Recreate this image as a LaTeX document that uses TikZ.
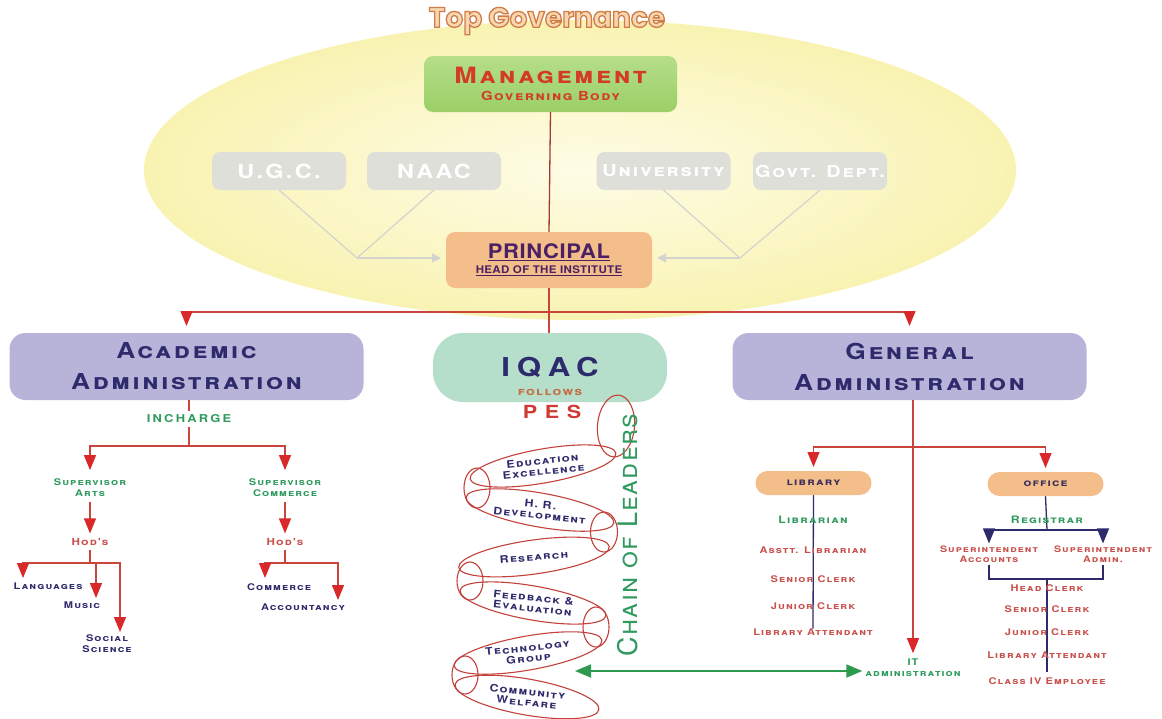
\documentclass[tikz,border=0pt]{standalone}
\usepackage{fontspec}
\usetikzlibrary{arrows.meta,shapes.geometric,calc}
\pgfdeclarelayer{paper}
\pgfdeclarelayer{bg}
\pgfsetlayers{paper,bg,main}
\setmainfont{TeX Gyre Heros}
\newfontfamily\cop{TeX Gyre Heros}[FakeStretch=1.2,LetterSpace=12]
\newfontfamily\plainsc{TeX Gyre Heros}[LetterSpace=5]
\newfontfamily\sq{TeX Gyre Heros}[FakeStretch=1.1,LetterSpace=3]
\newfontfamily\titlefont{Poppins}
\newcommand\fs[1]{\fontsize{#1}{\fpeval{1.18*#1}}\selectfont}
% outlined lettering: stroke and fill the glyphs
\newcommand\outlined[1]{\special{pdf:literal direct 1.3 w 0.81 0.49 0.27 RG 2 Tr}#1\special{pdf:literal direct 0 Tr}}

\definecolor{navy}{HTML}{2E2B6D}
\definecolor{mred}{HTML}{D33B26}
\definecolor{tgreen}{HTML}{2F9A5E}
\definecolor{salmon}{HTML}{C9504B}
\definecolor{follow}{HTML}{C46A3E}
\definecolor{pesred}{HTML}{D03A35}
\definecolor{purp}{HTML}{4B2163}
\definecolor{lred}{HTML}{C9453B}
\definecolor{ared}{HTML}{D8282A}
\definecolor{dred}{HTML}{A33A2E}
\definecolor{sred}{HTML}{C2413A}
\definecolor{gline}{HTML}{D3D3CF}
\definecolor{boxgray}{HTML}{DFDFD9}
\definecolor{lav}{HTML}{B8B3D8}
\definecolor{mint}{HTML}{B5DFCB}
\definecolor{peach}{HTML}{F4BE8A}
\definecolor{gtop}{HTML}{B5DE8A}
\definecolor{gbot}{HTML}{9BCF66}
\definecolor{govin}{HTML}{FEFCE6}
\definecolor{govout}{HTML}{F9F3B2}
\definecolor{tgfill}{HTML}{F8D7B2}
\definecolor{arrgreen}{HTML}{2E9A4E}
\definecolor{boxtext}{HTML}{3A2E5A}

\tikzset{
  every node/.style={inner sep=0pt,outer sep=0pt,align=center},
  fsc/.style={font=\cop\bfseries\scshape\fs{#1}},
  gbox/.style={fill=boxgray,rounded corners=8pt,minimum width=134pt,minimum height=38pt,text=white,font=\cop\bfseries\fs{19.5}},
  mgmtbox/.style={rounded corners=9pt,minimum width=253pt,minimum height=56pt,top color=gtop,bottom color=gbot,text=mred,font=\cop\bfseries\scshape},
  princbox/.style={rounded corners=9pt,minimum width=206pt,minimum height=56pt,fill=peach,text=purp,font=\sq\bfseries},
  adminbox/.style={rounded corners=16pt,minimum width=354pt,minimum height=67pt,fill=lav,text=navy,font=\cop\bfseries\scshape\fs{22}},
  iqacbox/.style={rounded corners=30pt,minimum width=234pt,minimum height=69pt,fill=mint,text=navy,font=\cop\bfseries\fs{26}\addfontfeature{LetterSpace=26}},
  smallbox/.style={rounded corners=12pt,minimum width=116pt,minimum height=24pt,fill=peach,text=boxtext,font=\cop\bfseries\scshape\fs{10.2}},
  loop/.style={draw=sred,line width=1.1pt,ellipse,inner sep=0pt},
  looptext/.style={text=navy,font=\cop\bfseries\scshape\fontsize{10.3}{10.5}\selectfont},
  redline/.style={draw=lred,line width=1.3pt},
  dredline/.style={draw=dred,line width=1.3pt},
  redarrow/.style={draw=lred,line width=1.3pt,-{Triangle[width=12pt,length=15pt,color=ared]}},
  navyline/.style={draw=navy,line width=1.3pt},
  navyarrow/.style={draw=navy,line width=1.3pt,-{Triangle[width=12pt,length=15pt,color=navy]}},
  grayline/.style={draw=gline,line width=1.2pt},
  grayarrow/.style={draw=gline,line width=1.2pt,-{Triangle[width=9pt,length=9pt,color=gline]}},
  greenarrow/.style={draw=arrgreen,line width=1.8pt,{Triangle[width=13pt,length=16pt,color=arrgreen]}-{Triangle[width=13pt,length=16pt,color=arrgreen]}}
}

\begin{document}
\begin{tikzpicture}[x=1pt,y=-1pt]
\useasboundingbox (0,0) rectangle (1162,718);
\begin{pgfonlayer}{paper}
  \fill[white] (0,0) rectangle (1162,718);
  % governance area
  \shade[inner color=govin,outer color=govout] (580,170) ellipse [x radius=436,y radius=150];
\end{pgfonlayer}
\node[font=\titlefont\bfseries\fs{28},text=tgfill] (topgov) at (547,21) {\outlined{Top Governance}};

\node[mgmtbox] (mgmt) at (550.5,84) {{\fs{22.5}Management}\\[5pt]{\fs{12.5}Governing Body}};
\node[princbox] (prin) at (549,260) {{\fs{20}\underline{PRINCIPAL}}\\[3pt]{\fs{10.5}\underline{HEAD OF THE INSTITUTE}}};

\node[gbox] (ugc) at (279,171) {U.G.C.};
\node[gbox] (naac) at (434,171) {NAAC};
\node[gbox,font=\cop\bfseries\scshape\fs{16.5}] (univ) at (663.5,171) {University};
\node[gbox,font=\cop\bfseries\scshape\fs{16.5}] (govt) at (820,171) {Govt. Dept.};

\coordinate (gl) at (357,258);
\coordinate (gr) at (740,258);
\draw[grayline] (ugc.south) -- (gl);
\draw[grayline] (naac.south) -- (gl);
\draw[grayarrow,shorten >=5pt] (gl) -- (gl -| prin.west);
\draw[grayline] (univ.south) -- (gr);
\draw[grayline] (govt.south) -- (gr);
\draw[grayarrow,shorten >=5pt] (gr) -- (gr -| prin.east);

\draw[dredline] (mgmt.south) -- (prin.north);

% second level
\node[adminbox] (acad) at (186.5,366.5) {Academic\\[5pt]Administration};
\node[iqacbox] (iqac) at (550,367.5) {IQAC};
\node[font=\cop\bfseries\scshape\fs{11.3},text=follow] (follows) at (550,392) {follows};
\node[adminbox] (gen) at (909.5,366.5) {General\\[5pt]Administration};

\coordinate (br) at (549,312);
\draw[redline] (prin.south) -- (prin.south |- iqac.north);
\draw[redarrow,shorten >=7pt] (br) -| (acad.north);
\draw[redarrow,shorten >=7pt] (br) -| (gen.north);

% academic administration
\node[font=\cop\bfseries\fs{10.8}\addfontfeature{LetterSpace=20},text=tgreen] (inch) at (189,419) {INCHARGE};
\coordinate (ib) at (189,446);
\draw[redline] (acad.south -| inch.north) -- ([yshift=4pt]inch.north);
\draw[redline] ([yshift=-4pt]inch.south) -- (ib);

\node[fsc=9.2,text=tgreen] (supA) at (90,488) {Supervisor\\Arts};
\node[fsc=9.2,text=tgreen] (supC) at (285,488) {Supervisor\\Commerce};
\draw[redarrow] (ib) -| ([yshift=9pt]supA.north);
\draw[redarrow] (ib) -| ([yshift=9pt]supC.north);

\node[fsc=9.7,text=salmon] (hodA) at (90,542) {Hod's};
\node[fsc=9.7,text=salmon] (hodC) at (285,542) {Hod's};
\draw[redarrow] ([yshift=-5pt]supA.south) -- ([yshift=5pt]hodA.north);
\draw[redarrow] ([yshift=-5pt]supC.south) -- ([yshift=5pt]hodC.north);

\coordinate (ha) at (90,563);
\coordinate (hc) at (285,563);
\draw[redline] ([yshift=-4pt]hodA.south) -- (ha);
\draw[redline] ([yshift=-4pt]hodC.south) -- (hc);
\coordinate (tLang) at (23,578);
\coordinate (tMus) at (96,598);
\coordinate (tSoc) at (120,632);
\coordinate (tCom) at (265,578);
\coordinate (tAcc) at (338,600);
\draw[redarrow] (ha) -| (tLang);
\draw[redarrow] (ha) -| (tMus);
\draw[redarrow] (ha) -| (tSoc);
\draw[redarrow] (hc) -| (tCom);
\draw[redarrow] (hc) -| (tAcc);

\node[fsc=9.2,text=navy] (lang) at (48,586) {Languages};
\node[fsc=9.2,text=navy] (music) at (82,605) {Music};
\node[fsc=9.2,text=navy] (soc) at (107,644) {Social\\Science};
\node[fsc=9.2,text=navy] (comm) at (279,587) {Commerce};
\node[fsc=9.2,text=navy] (acct) at (303,607) {Accountancy};

% IQAC chain of loops
\node[font=\cop\bfseries\fs{18}\addfontfeature{LetterSpace=42},text=pesred] (pes) at (552,412) {PES};
\node[loop,minimum width=37pt,minimum height=62pt,rotate=-5] (c0) at (616,426) {};
\node[loop,minimum width=148pt,minimum height=34pt,rotate=10] (e1) at (543,466) {};
\node[loop,minimum width=26pt,minimum height=40pt] (c1) at (477,488) {};
\node[loop,minimum width=150pt,minimum height=34pt,rotate=-10] (e2) at (540,510) {};
\node[loop,minimum width=27pt,minimum height=40pt] (c2) at (604,532) {};
\node[loop,minimum width=152pt,minimum height=34pt,rotate=8] (e3) at (534,557) {};
\node[loop,minimum width=26pt,minimum height=38pt] (c3) at (470,581) {};
\node[loop,minimum width=148pt,minimum height=34pt,rotate=-10] (e4) at (533,603) {};
\node[loop,minimum width=26pt,minimum height=40pt] (c4) at (596,627) {};
\node[loop,minimum width=150pt,minimum height=34pt,rotate=10] (e5) at (528,653) {};
\node[loop,minimum width=26pt,minimum height=38pt] (c5) at (465,675) {};
\node[loop,minimum width=146pt,minimum height=36pt,rotate=-10] (e6) at (527,697) {};

\node[looptext,rotate=6] (t1) at (e1) {Education\\Excellence};
\node[looptext,rotate=-6] (t2) at (e2) {H. R.\\Development};
\node[looptext,rotate=5] (t3) at (e3) {Research};
\node[looptext,rotate=-6] (t4) at (e4) {Feedback \&\\Evaluation};
\node[looptext,rotate=6] (t5) at (e5) {Technology\\Group};
\node[looptext,rotate=-6] (t6) at (e6) {Community\\Welfare};

\node[font=\plainsc\scshape\fs{27},text=tgreen,rotate=90] (chain) at (628,535) {Chain of Leaders};

% general administration
\node[smallbox] (lib) at (813.5,483) {library};
\node[smallbox] (off) at (1045.5,484) {office};
\node[fsc=9.2,text=tgreen] (itadm) at (913,668) {IT\\administration};
\coordinate (gb) at (913,447);
\draw[redarrow] (gen.south -| itadm.north) -- ([yshift=6pt]itadm.north);
\draw[redarrow] (gb) -| ([yshift=4pt]lib.north);
\draw[redarrow] (gb) -| ([yshift=4pt]off.north);

\coordinate (gL) at (575,671);
\draw[greenarrow] (gL) -- ([xshift=-3pt]gL -| itadm.west);

% library staff
\node[fsc=10.2,text=tgreen] (librn) at (813,520) {Librarian};
\node[fsc=9.2,text=salmon] (asst) at (813,550) {Asstt. Librarian};
\node[fsc=9.2,text=salmon] (lsen) at (813,579) {Senior Clerk};
\node[fsc=9.2,text=salmon] (ljun) at (813,606) {Junior Clerk};
\node[fsc=9.2,text=salmon] (latt) at (813,632) {Library Attendant};

% office staff
\node[fsc=10.2,text=tgreen] (reg) at (1047,520) {Registrar};
\node[fsc=8.9,text=salmon] (supacc) at (989,554) {Superintendent\\Accounts};
\node[fsc=8.9,text=salmon] (supadm) at (1103,554) {Superintendent\\Admin.};
\node[fsc=9.2,text=salmon] (hclk) at (1047,588) {Head Clerk};
\node[fsc=9.2,text=salmon] (osen) at (1047,609) {Senior Clerk};
\node[fsc=9.2,text=salmon] (ojun) at (1047,632) {Junior Clerk};
\node[fsc=9.2,text=salmon] (oatt) at (1047,655) {Library Attendant};
\node[fsc=9.2,text=salmon] (cls4) at (1047,681) {Class IV Employee};

\coordinate (rg) at (1047,530);
\coordinate (ob) at (1047,579);
\draw[navyarrow] (rg) -| ([yshift=2pt]supacc.north);
\draw[navyarrow] (rg) -| ([yshift=2pt]supadm.north);
\draw[navyline] ([yshift=-2pt]supacc.south) |- (ob) -| ([yshift=-2pt]supadm.south);

\begin{pgfonlayer}{bg}
  \draw[navyline] (lib.south) -- (latt.north);
  \draw[navyline] (off.south) -- (rg);
  \draw[navyline] (ob) -- ([yshift=6pt]cls4.north);
\end{pgfonlayer}
\end{tikzpicture}
\end{document}
